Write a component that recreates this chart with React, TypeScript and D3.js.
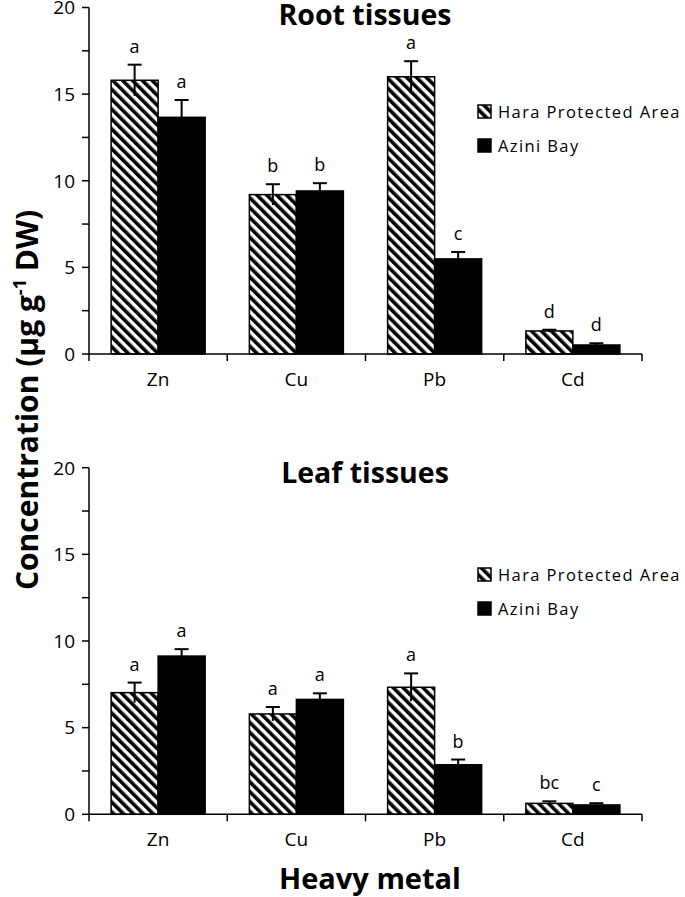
import React from 'react';
import * as d3 from 'd3';

const metals = ['Zn', 'Cu', 'Pb', 'Cd'];
const seriesNames = ['Hara Protected Area', 'Azini Bay'];

// root tissues (µg g-1 DW)
const rootHara = [15.8, 9.2, 16.0, 1.33];
const rootHaraErr = [0.9, 0.6, 0.9, 0.07];
const rootHaraLetters = ['a', 'b', 'a', 'd'];
const rootAzini = [13.66, 9.41, 5.49, 0.52];
const rootAziniErr = [1.0, 0.45, 0.4, 0.1];
const rootAziniLetters = ['a', 'b', 'c', 'd'];

// leaf tissues
const leafHara = [7.02, 5.79, 7.33, 0.63];
const leafHaraErr = [0.58, 0.4, 0.8, 0.12];
const leafHaraLetters = ['a', 'a', 'a', 'bc'];
const leafAzini = [9.13, 6.63, 2.86, 0.54];
const leafAziniErr = [0.4, 0.35, 0.3, 0.1];
const leafAziniLetters = ['a', 'a', 'b', 'c'];

const yTickLabels = [0, 5, 10, 15, 20];
const yMinorTicks = d3.range(0, 20.01, 2.5);

const FONT = '"Open Sans", "Liberation Sans", sans-serif';

type PanelProps = {
  title: string;
  y0: number; // pixel of value 0
  y20: number; // pixel of value 20
  titleY: number;
  legendY: number[];
  hara: number[];
  haraErr: number[];
  haraLetters: string[];
  azini: number[];
  aziniErr: number[];
  aziniLetters: string[];
};

function Panel(p: PanelProps) {
  const y = d3.scaleLinear().domain([0, 20]).range([p.y0, p.y20]);
  const x = d3.scaleBand<string>().domain(metals).range([89, 642]).paddingInner(0.32).paddingOuter(0.16);
  const xs = d3.scaleBand<string>().domain(seriesNames).range([0, x.bandwidth()]);
  const step = x.step();
  const boundaries = d3.range(metals.length + 1).map(i => 89 + i * step);

  const series = [
    { name: seriesNames[0], vals: p.hara, errs: p.haraErr, letters: p.haraLetters, fill: 'url(#hatch)' },
    { name: seriesNames[1], vals: p.azini, errs: p.aziniErr, letters: p.aziniLetters, fill: '#000' },
  ];

  return (
    <g>
      <text x={365} y={p.titleY} textAnchor="middle" fontSize={28.5} fontWeight="bold" fontFamily={FONT}>{p.title}</text>

      {/* bars */}
      {series.map(s => s.vals.map((v, i) => {
        const bx = (x(metals[i]) as number) + (xs(s.name) as number);
        const bw = xs.bandwidth();
        const cx = bx + bw / 2;
        const top = y(v + s.errs[i]);
        return (
          <g key={s.name + i}>
            <rect x={bx} y={y(v)} width={bw} height={y(0) - y(v)} fill={s.fill} stroke="#000" strokeWidth={1.5} />
            <line x1={cx} x2={cx} y1={y(v - s.errs[i])} y2={top} stroke="#000" strokeWidth={2} />
            <line x1={cx - 7} x2={cx + 7} y1={top} y2={top} stroke="#000" strokeWidth={2} />
            <text x={cx} y={top - 12} textAnchor="middle" fontSize={18} fontFamily={FONT}>{s.letters[i]}</text>
          </g>
        );
      }))}

      {/* y axis */}
      <line x1={89} x2={89} y1={y(0)} y2={y(20)} stroke="#000" strokeWidth={1.5} />
      {yMinorTicks.map(t => (
        <line key={t} x1={82} x2={89} y1={y(t)} y2={y(t)} stroke="#000" strokeWidth={1.5} />
      ))}
      {yTickLabels.map(t => (
        <text key={t} x={75} y={y(t)} dy="0.36em" textAnchor="end" fontSize={19} fontFamily={FONT}>{t}</text>
      ))}

      {/* x axis */}
      <line x1={89} x2={642} y1={y(0)} y2={y(0)} stroke="#000" strokeWidth={1.5} />
      {boundaries.map((b, i) => (
        <line key={i} x1={b} x2={b} y1={y(0)} y2={y(0) + 7} stroke="#000" strokeWidth={1.5} />
      ))}
      {metals.map(m => (
        <text key={m} x={(x(m) as number) + x.bandwidth() / 2} y={y(0) + 32} textAnchor="middle" fontSize={19} fontFamily={FONT}>{m}</text>
      ))}

      {/* legend */}
      {series.map((s, i) => (
        <g key={s.name}>
          <rect x={478} y={p.legendY[i] - 13} width={13} height={13} fill={s.fill} stroke="#000" strokeWidth={1.5} />
          <text x={498} y={p.legendY[i]} fontSize={16.5} letterSpacing={1.4} fontFamily={FONT}>{s.name}</text>
        </g>
      ))}
    </g>
  );
}

export default function App() {
  return (
    <svg width={685} height={897} style={{ position: 'absolute', left: 0, top: 0, background: '#fff' }}>
      <defs>
        <pattern id="hatch" patternUnits="userSpaceOnUse" width={7} height={7} patternTransform="rotate(-45)">
          <rect width={7} height={7} fill="#fff" />
          <rect width={3.6} height={7} fill="#000" />
        </pattern>
      </defs>
      <rect width={685} height={897} fill="#fff" />
      <Panel title="Root tissues" y0={354} y20={7.5} titleY={25} legendY={[118, 152]}
        hara={rootHara} haraErr={rootHaraErr} haraLetters={rootHaraLetters}
        azini={rootAzini} aziniErr={rootAziniErr} aziniLetters={rootAziniLetters} />
      <Panel title="Leaf tissues" y0={814.3} y20={467.7} titleY={483} legendY={[581, 615]}
        hara={leafHara} haraErr={leafHaraErr} haraLetters={leafHaraLetters}
        azini={leafAzini} aziniErr={leafAziniErr} aziniLetters={leafAziniLetters} />

      <text transform="translate(38,400) rotate(-90)" textAnchor="middle" fontSize={30} fontWeight="bold" fontFamily={FONT}>
        Concentration (µg g<tspan dy={-12} fontSize={18}>-1</tspan><tspan dy={12}> DW)</tspan>
      </text>
      <text x={370} y={889} textAnchor="middle" fontSize={29} fontWeight="bold" fontFamily={FONT}>Heavy metal</text>
    </svg>
  );
}
